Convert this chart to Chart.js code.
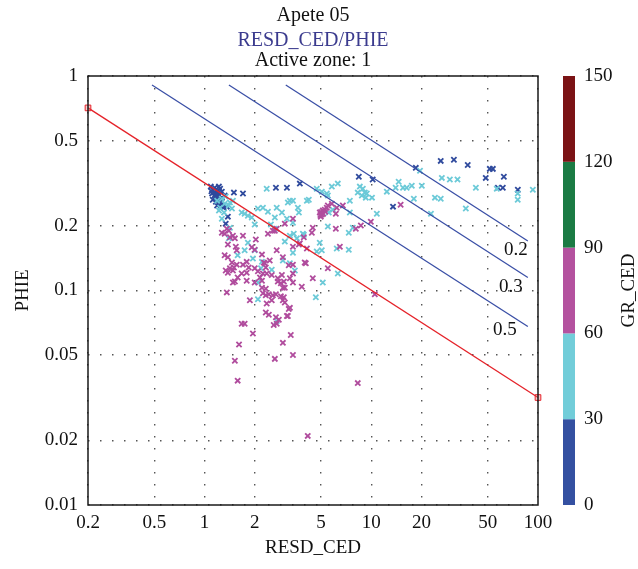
<!DOCTYPE html>
<html>
<head>
<meta charset="utf-8">
<script src="https://cdn.jsdelivr.net/npm/chart.js@4.4.0/dist/chart.umd.min.js"></script>
<style>
  html, body { margin: 0; padding: 0; background: #fff; }
  #wrap { width: 638px; height: 569px; }
</style>
</head>
<body>
<div id="wrap"><canvas id="pickett" width="638" height="569"></canvas></div>
<script>
// Pickett plot: RESD_CED vs PHIE, points coloured by GR_CED

const xTicks = [0.2, 0.5, 1, 2, 5, 10, 20, 50, 100]
const yTicks = [0.01, 0.02, 0.05, 0.1, 0.2, 0.5, 1]
const grTicks = [0, 30, 60, 90, 120, 150]
const grColors = ['#3450a1', '#72cdd9', '#b4529f', '#1b7b44', '#7b1315']

// water line (Sw = 1)
const wetResd = [0.2, 100]
const wetPhie = [0.71, 0.0317]

// Sw lines
const swValues = ['0.2', '0.3', '0.5']
const swStartResd = [3.07, 1.40, 0.484]
const swStartPhie = [0.908, 0.908, 0.908]
const swEndResd = [86.9, 86.9, 86.9]
const swEndPhie = [0.170, 0.115, 0.068]

// GR 0 - 30
const lowGrResd = [1.09, 1.12, 1.15, 1.19, 1.11, 1.15, 1.20, 1.24, 1.27, 1.12, 1.17, 1.22, 1.27, 1.32, 1.19,
  1.25, 1.30, 1.36, 1.14, 1.22, 1.50, 1.70, 1.38, 1.34, 1.30, 2.68, 3.12, 3.73, 8.42, 10.2, 13.5, 18.5, 26.1,
  31.3, 37.9, 51.4, 53.6, 48.6, 62.4, 57.5, 61.5, 75.7, 1.16, 1.21, 1.10, 1.26, 1.18, 1.23]
const lowGrPhie = [0.305, 0.295, 0.301, 0.292, 0.283, 0.277, 0.283, 0.298, 0.289, 0.265, 0.259, 0.268, 0.271, 0.277, 0.249,
  0.251, 0.243, 0.246, 0.286, 0.305, 0.286, 0.283, 0.221, 0.205, 0.249, 0.301, 0.301, 0.315, 0.339, 0.329, 0.246, 0.373, 0.402,
  0.407, 0.385, 0.369, 0.369, 0.335, 0.339, 0.301, 0.301, 0.295, 0.280, 0.276, 0.290, 0.262, 0.270, 0.255]

// GR 30 - 60
const midGrResd = [1.19, 1.27, 1.24, 1.32, 1.42, 1.48, 1.27, 1.40, 1.67, 1.74, 1.82, 1.92, 2.09, 2.24, 2.40,
  2.36, 2.71, 2.91, 2.64, 3.12, 3.25, 3.39, 2.00, 2.50, 2.64, 1.42, 3.03, 3.43, 1.82, 1.74, 2.00, 1.58, 1.95,
  2.21, 3.39, 2.53, 2.09, 2.18, 3.16, 3.63, 3.68, 4.11, 4.22, 4.71, 5.05, 5.41, 5.80, 6.30, 5.49, 5.88, 5.56,
  7.44, 3.39, 3.25, 3.58, 3.94, 4.91, 5.05, 6.21, 7.33, 4.65, 5.12, 6.30, 2.95, 2.71, 8.54, 8.90, 9.15, 9.40,
  9.27, 10.1, 8.30, 8.78, 10.8, 14.6, 14.0, 15.5, 16.3, 17.5, 18.0, 5.49, 7.33, 7.75, 3.89, 4.71, 3.48, 3.25,
  20.1, 24.1, 26.1, 26.5, 29.6, 32.9, 42.4, 56.6, 75.6, 75.6, 93.1, 36.9, 22.8, 12.4, 7.44, 19.6, 2.09, 1.34,
  1.40, 1.46, 1.22, 1.31]
const midGrPhie = [0.262, 0.268, 0.243, 0.254, 0.257, 0.262, 0.216, 0.175, 0.231, 0.228, 0.223, 0.219, 0.241, 0.243, 0.233,
  0.298, 0.243, 0.231, 0.219, 0.216, 0.262, 0.262, 0.203, 0.203, 0.194, 0.196, 0.169, 0.184, 0.167, 0.154, 0.154, 0.146, 0.141,
  0.136, 0.150, 0.125, 0.109, 0.127, 0.257, 0.243, 0.231, 0.262, 0.265, 0.298, 0.289, 0.283, 0.305, 0.315, 0.277, 0.238, 0.231,
  0.262, 0.207, 0.180, 0.175, 0.182, 0.167, 0.154, 0.157, 0.155, 0.093, 0.109, 0.120, 0.138, 0.072, 0.305, 0.298, 0.286, 0.283,
  0.271, 0.271, 0.286, 0.277, 0.228, 0.321, 0.301, 0.301, 0.301, 0.308, 0.268, 0.199, 0.186, 0.196, 0.184, 0.152, 0.124, 0.134,
  0.308, 0.271, 0.268, 0.335, 0.329, 0.329, 0.301, 0.298, 0.283, 0.265, 0.295, 0.241, 0.228, 0.289, 0.231, 0.362, 0.091, 0.274,
  0.249, 0.241, 0.236, 0.231]

// GR 60 - 90
const highGrResd = [1.36, 1.40, 1.27, 1.32, 1.48, 1.42, 1.52, 1.38, 1.54, 1.70, 2.03, 1.92, 2.00, 2.21, 2.40,
  2.64, 2.71, 3.03, 3.39, 2.71, 2.95, 3.20, 1.32, 1.38, 1.46, 1.56, 1.70, 1.79, 1.84, 1.42, 1.38, 1.48, 1.67,
  1.79, 2.00, 2.09, 2.30, 2.46, 2.36, 2.53, 2.75, 2.91, 2.99, 2.15, 2.21, 1.79, 1.58, 1.52, 3.25, 3.39, 1.56,
  1.34, 1.50, 1.48, 2.24, 2.27, 2.33, 3.39, 2.95, 3.83, 2.33, 2.24, 2.33, 2.43, 2.57, 2.68, 2.87, 2.95, 1.87,
  2.36, 2.43, 2.68, 2.79, 2.71, 2.60, 3.12, 3.20, 1.36, 1.67, 1.74, 1.95, 1.61, 2.95, 3.29, 1.52, 3.39, 2.64,
  1.58, 4.46, 3.99, 5.49, 3.39, 4.46, 4.40, 2.57, 3.94, 3.68, 4.11, 4.91, 5.05, 5.12, 4.98, 5.26, 5.41, 5.49,
  5.80, 6.21, 6.75, 6.13, 6.13, 6.48, 15.0, 9.94, 8.66, 8.08, 3.73, 3.39, 4.05, 10.5, 3.25, 2.21, 2.53, 2.33,
  3.03, 2.99, 3.16, 2.87, 3.03, 2.75, 2.00, 8.30, 4.16, 5.00, 5.15, 5.30, 4.95]
const highGrPhie = [0.194, 0.190, 0.186, 0.184, 0.180, 0.177, 0.175, 0.164, 0.160, 0.180, 0.173, 0.159, 0.155, 0.147, 0.184,
  0.190, 0.194, 0.205, 0.216, 0.154, 0.143, 0.131, 0.146, 0.143, 0.135, 0.132, 0.132, 0.136, 0.128, 0.127, 0.121, 0.124, 0.120,
  0.121, 0.127, 0.123, 0.134, 0.138, 0.120, 0.118, 0.114, 0.118, 0.110, 0.115, 0.111, 0.111, 0.115, 0.110, 0.114, 0.132, 0.154,
  0.124, 0.128, 0.109, 0.120, 0.135, 0.128, 0.120, 0.103, 0.104, 0.102, 0.097, 0.095, 0.096, 0.095, 0.096, 0.094, 0.090, 0.090,
  0.087, 0.077, 0.075, 0.073, 0.070, 0.069, 0.076, 0.082, 0.098, 0.070, 0.070, 0.063, 0.056, 0.057, 0.062, 0.047, 0.050, 0.048,
  0.038, 0.114, 0.135, 0.127, 0.109, 0.196, 0.186, 0.190, 0.177, 0.164, 0.157, 0.231, 0.226, 0.236, 0.221, 0.238, 0.243, 0.249,
  0.254, 0.243, 0.249, 0.228, 0.194, 0.160, 0.251, 0.209, 0.201, 0.194, 0.166, 0.160, 0.134, 0.096, 0.083, 0.103, 0.090, 0.079,
  0.088, 0.093, 0.076, 0.108, 0.103, 0.110, 0.109, 0.037, 0.021, 0.232, 0.228, 0.233, 0.225]

const pts = (xs, ys) => xs.map((x, i) => ({ x: x, y: ys[i] }))

const serif = '"Liberation Serif", "DejaVu Serif", serif'

const swDatasets = swValues.map((sw, i) => ({
  label: 'Sw ' + sw,
  data: [{ x: swStartResd[i], y: swStartPhie[i] }, { x: swEndResd[i], y: swEndPhie[i] }],
  showLine: true,
  borderColor: '#3a4fa6',
  borderWidth: 1.3,
  pointRadius: 0,
  order: 0
}))

const scatterSet = (label, xs, ys, color) => ({
  label: label,
  data: pts(xs, ys),
  pointStyle: 'crossRot',
  pointRadius: 3.7,
  borderWidth: 1.8,
  borderColor: color,
  backgroundColor: color,
  order: 1
})

// frame, titles, colour bar, Sw labels
const sw_label_shift = [[-12, 9], [-17, 10], [-23, 4]]
const overlay = {
  id: 'overlay',
  afterDatasetsDraw(chart) {
    const { ctx, chartArea: a, scales } = chart
    ctx.save()
    ctx.strokeStyle = '#1a1a1a'
    ctx.lineWidth = 1.5
    ctx.strokeRect(a.left, a.top, a.right - a.left, a.bottom - a.top)

    ctx.font = '19px ' + serif
    ctx.fillStyle = '#111'
    ctx.textAlign = 'center'
    ctx.textBaseline = 'middle'
    swValues.forEach((t, i) => {
      const px = scales.x.getPixelForValue(swEndResd[i])
      const py = scales.y.getPixelForValue(swEndPhie[i])
      ctx.fillText(t, px + sw_label_shift[i][0], py + sw_label_shift[i][1])
    })
    ctx.restore()
  },
  afterDraw(chart) {
    const { ctx, chartArea: a, scales } = chart
    const gr = scales.gr
    ctx.save()
    // colour bar
    const barX = gr.left + 25
    for (let i = 0; i < grColors.length; i++) {
      const y0 = gr.getPixelForValue(grTicks[i])
      const y1 = gr.getPixelForValue(grTicks[i + 1])
      ctx.fillStyle = grColors[i]
      ctx.fillRect(barX, y1, 12, y0 - y1)
    }
    // colour bar title
    ctx.fillStyle = '#111'
    ctx.font = '19px ' + serif
    ctx.textAlign = 'center'
    ctx.textBaseline = 'middle'
    ctx.translate(629, (a.top + a.bottom) / 2)
    ctx.rotate(-Math.PI / 2)
    ctx.fillText('GR_CED', 0, 0)
    ctx.restore()

    // titles
    ctx.save()
    const cx = (a.left + a.right) / 2
    ctx.textAlign = 'center'
    ctx.textBaseline = 'alphabetic'
    ctx.font = '20px ' + serif
    ctx.fillStyle = '#111'
    ctx.fillText('Apete 05', cx, 21)
    ctx.fillStyle = '#3b3b8e'
    ctx.fillText('RESD_CED/PHIE', cx, 46)
    ctx.fillStyle = '#111'
    ctx.fillText('Active zone: 1', cx, 66)
    ctx.restore()
  }
}

const tickFont = { family: serif, size: 19 }
const dotted = { display: false, dash: [1.5, 10.5] }

new Chart(document.getElementById('pickett'), {
  type: 'scatter',
  data: {
    datasets: [
      {
        label: 'Sw 1',
        data: pts(wetResd, wetPhie),
        showLine: true,
        borderColor: '#e5232a',
        borderWidth: 1.3,
        pointStyle: 'rect',
        pointRadius: 4,
        pointBorderWidth: 1,
        pointBackgroundColor: 'rgba(240, 110, 110, 0.35)',
        pointBorderColor: '#e5232a',
        clip: 8,
        order: 0
      },
      ...swDatasets,
      scatterSet('GR 60-90', highGrResd, highGrPhie, '#b04c9d'),
      scatterSet('GR 30-60', midGrResd, midGrPhie, '#6ccad8'),
      scatterSet('GR 0-30', lowGrResd, lowGrPhie, '#2f4a9d')
    ]
  },
  options: {
    responsive: false,
    animation: false,
    layout: { padding: { top: 76, right: 0, left: 0, bottom: 0 } },
    plugins: {
      legend: { display: false },
      tooltip: { enabled: false }
    },
    scales: {
      x: {
        type: 'logarithmic',
        min: 0.2,
        max: 100,
        afterBuildTicks: s => { s.ticks = xTicks.map(v => ({ value: v })) },
        afterFit: s => { s.height = 64 },
        ticks: {
          autoSkip: false,
          maxRotation: 0,
          padding: 7,
          color: '#111',
          font: tickFont,
          callback: v => String(v)
        },
        grid: { color: '#555', lineWidth: 1.4, drawTicks: false },
        border: dotted,
        title: {
          display: true,
          text: 'RESD_CED',
          color: '#111',
          font: { family: serif, size: 19 },
          padding: { top: 0, bottom: 10 }
        }
      },
      y: {
        type: 'logarithmic',
        min: 0.01,
        max: 1,
        afterBuildTicks: s => { s.ticks = yTicks.map(v => ({ value: v })) },
        afterFit: s => { s.width = 88 },
        ticks: {
          autoSkip: false,
          padding: 10,
          color: '#111',
          font: tickFont,
          callback: v => String(v)
        },
        grid: { color: '#555', lineWidth: 1.4, drawTicks: false },
        border: dotted,
        title: {
          display: true,
          text: 'PHIE',
          color: '#111',
          font: { family: serif, size: 19 },
          padding: { top: 12, bottom: 0 }
        }
      },
      gr: {
        type: 'linear',
        position: 'right',
        min: 0,
        max: 150,
        afterBuildTicks: s => { s.ticks = grTicks.map(v => ({ value: v })) },
        afterFit: s => { s.width = 100 },
        ticks: { padding: 46, color: '#111', font: tickFont },
        grid: { display: false, drawTicks: false },
        border: { display: false }
      }
    }
  },
  plugins: [overlay]
})
</script>
</body>
</html>
